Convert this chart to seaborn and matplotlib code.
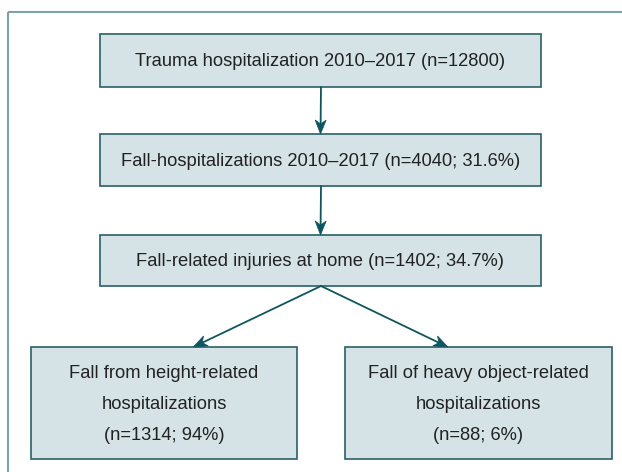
import matplotlib
matplotlib.use("Agg")
import numpy as np
import matplotlib.pyplot as plt
import seaborn as sns
from matplotlib.patches import Rectangle, Polygon

sns.set_theme(style="white")
plt.rcParams['font.family'] = ['Liberation Sans', 'DejaVu Sans']

# Flowchart content
labels = [
    "Trauma hospitalization 2010\u20132017 (n=12800)",
    "Fall-hospitalizations 2010\u20132017 (n=4040; 31.6%)",
    "Fall-related injuries at home (n=1402; 34.7%)",
    "Fall from height-related\nhospitalizations\n(n=1314; 94%)",
    "Fall of heavy object-related\nhospitalizations\n(n=88; 6%)",
]
counts = [12800, 4040, 1402, 1314, 88]
# box geometry in pixels: left, top, right, bottom
boxes = [
    (100, 34, 541, 87),
    (100, 134, 541, 186),
    (100, 235, 541, 286),
    (31, 347, 297, 459),
    (345, 347, 612, 459),
]
# parent -> child links
links = [(0, 1), (1, 2), (2, 3), (2, 4)]
# where the arrow meets the child box top (fraction of box width)
arrow_target = [0.5, 0.5, 0.5, 0.61, 0.385]

fill = "#d5e3e6"
edge = "#2a6068"
arrow_col = "#0f5560"
frame_col = "#7fa2a5"

fig = plt.figure(figsize=(6.22, 4.72), dpi=100)
ax = fig.add_axes([0, 0, 1, 1])
ax.set_xlim(0, 622)
ax.set_ylim(472, 0)
ax.axis("off")

# outer frame (left and top edges visible)
ax.plot([8, 8], [472, 12], color=frame_col, lw=1.5, solid_capstyle="butt")
ax.plot([8, 622], [12, 12], color=frame_col, lw=1.5, solid_capstyle="butt")

for (x0, y0, x1, y1), lab in zip(boxes, labels):
    ax.add_patch(Rectangle((x0, y0), x1 - x0, y1 - y0, facecolor=fill,
                           edgecolor=edge, lw=1.2))
    ax.text((x0 + x1) / 2, (y0 + y1) / 2 + 1.5, lab, ha="center", va="center",
            fontsize=13.2, color="#222222", linespacing=2.1)


def draw_arrow(start, end, head_len=14, head_w=5.5, notch=4):
    s, e = np.array(start, float), np.array(end, float)
    d = (e - s) / np.linalg.norm(e - s)
    n = np.array([-d[1], d[0]])
    base = e - d * head_len
    ax.plot([s[0], (e - d * (head_len - notch))[0]],
            [s[1], (e - d * (head_len - notch))[1]], color=arrow_col, lw=1.3)
    pts = [e, base + n * head_w, e - d * (head_len - notch), base - n * head_w]
    ax.add_patch(Polygon(pts, closed=True, facecolor=arrow_col,
                         edgecolor=arrow_col, lw=0.5))


for (a, b) in links:
    ax0, ay0, ax1, ay1 = boxes[a]
    bx0, by0, bx1, by1 = boxes[b]
    start = ((ax0 + ax1) / 2 + 0.5, ay1)
    end = (bx0 + (bx1 - bx0) * arrow_target[b], by0)
    draw_arrow(start, end)

fig.savefig("out.png", dpi=100, facecolor="white")
